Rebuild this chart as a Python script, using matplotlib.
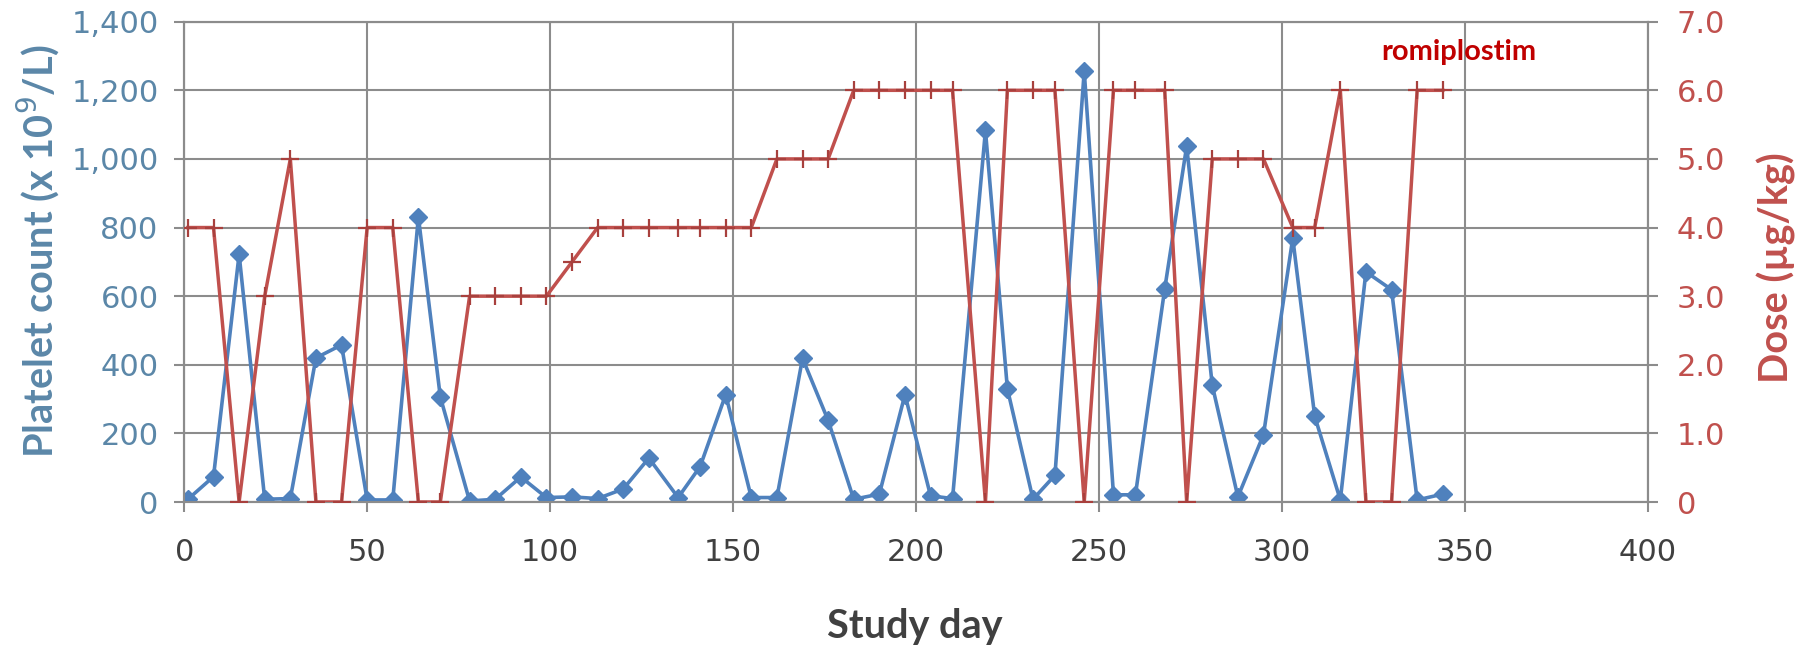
import matplotlib
matplotlib.use("Agg")
import matplotlib.pyplot as plt
from matplotlib.ticker import FuncFormatter

# ---- data ----
study_day = [1, 8, 15, 22, 29, 36, 43, 50, 57, 64,
             70, 78, 85, 92, 99, 106, 113, 120, 127, 135,
             141, 148, 155, 162, 169, 176, 183, 190, 197, 204,
             210, 219, 225, 232, 238, 246, 254, 260, 268, 274,
             281, 288, 295, 303, 309, 316, 323, 330, 337, 344]
platelet_count = [8, 74, 722, 8, 10, 420, 458, 6, 6, 831,
                  306, 3, 8, 73, 13, 15, 10, 38, 128, 13,
                  103, 313, 13, 13, 419, 238, 8, 23, 313, 18,
                  10, 1083, 330, 8, 78, 1256, 21, 21, 621, 1037,
                  340, 15, 196, 769, 250, 6, 671, 619, 6, 23]
romiplostim_dose = [4, 4, 0, 3, 5, 0, 0, 4, 4, 0,
                    0, 3, 3, 3, 3, 3.5, 4, 4, 4, 4,
                    4, 4, 4, 5, 5, 5, 6, 6, 6, 6,
                    6, 0, 6, 6, 6, 0, 6, 6, 6, 0,
                    5, 5, 5, 4, 4, 6, 0, 0, 6, 6]
x_ticks = [0, 50, 100, 150, 200, 250, 300, 350, 400]
left_ticks = [0, 200, 400, 600, 800, 1000, 1200, 1400]
right_ticks = [0, 1, 2, 3, 4, 5, 6, 7]

BLUE = "#4f81bd"
RED = "#c0504d"
LEFT_TXT = "#5b87a8"
GRID = "#8c8c8c"

fig = plt.figure(figsize=(18.08, 6.48), dpi=100)
ax = fig.add_axes([0.1019, 0.2253, 0.8094, 0.7412])
ax2 = ax.twinx()

ax.plot(study_day, platelet_count, color=BLUE, lw=2.6, marker="D",
        ms=9.5, mfc=BLUE, mec=BLUE, zorder=3)
ax2.plot(study_day, romiplostim_dose, color=RED, lw=2.5, marker="+",
         ms=13, mew=1.6, mec="#a8403d", zorder=3)

ax.set_xlim(0, 400)
ax.set_ylim(0, 1400)
ax2.set_ylim(0, 7)
ax.set_xticks(x_ticks)
ax.set_yticks(left_ticks)
ax2.set_yticks(right_ticks)
ax.yaxis.set_major_formatter(FuncFormatter(lambda v, p: "0" if v == 0 else f"{int(v):,}"))
ax2.yaxis.set_major_formatter(FuncFormatter(lambda v, p: "0" if v == 0 else f"{v:.1f}"))

ax.grid(True, color=GRID, lw=1.5, zorder=0)
ax.set_axisbelow(True)
for a in (ax, ax2):
    for s in a.spines.values():
        s.set_color(GRID)
        s.set_linewidth(1.5)
    a.tick_params(length=7, width=1.5, color=GRID)

ax.tick_params(axis="y", labelsize=22, labelcolor=LEFT_TXT, pad=11.5)
ax.tick_params(axis="x", labelsize=22, labelcolor="#404040", pad=19)
ax2.tick_params(axis="y", labelsize=22, labelcolor=RED, pad=14)

fig.text(38 / 1808, 1 - 251 / 648, "Platelet count (x 10$^{9}$/L)", rotation=90,
         ha="center", va="center", fontsize=28.5, fontweight="bold",
         color=LEFT_TXT, family="Lato")
fig.text(1776 / 1808, 1 - 268 / 648, "Dose (µg/kg)", rotation=90,
         ha="center", va="center", fontsize=28.5, fontweight="bold",
         color=RED, family="Lato")
fig.text(915 / 1808, 1 - 638 / 648, "Study day", ha="center", va="baseline",
         fontsize=28.5, fontweight="bold", color="#404040", family="Lato")

ax2.text(348.5, 6.56, "romiplostim", color="#c00000", fontsize=21,
         fontweight="bold", family="Lato", ha="center", va="center")

fig.savefig("out.png", dpi=100)
